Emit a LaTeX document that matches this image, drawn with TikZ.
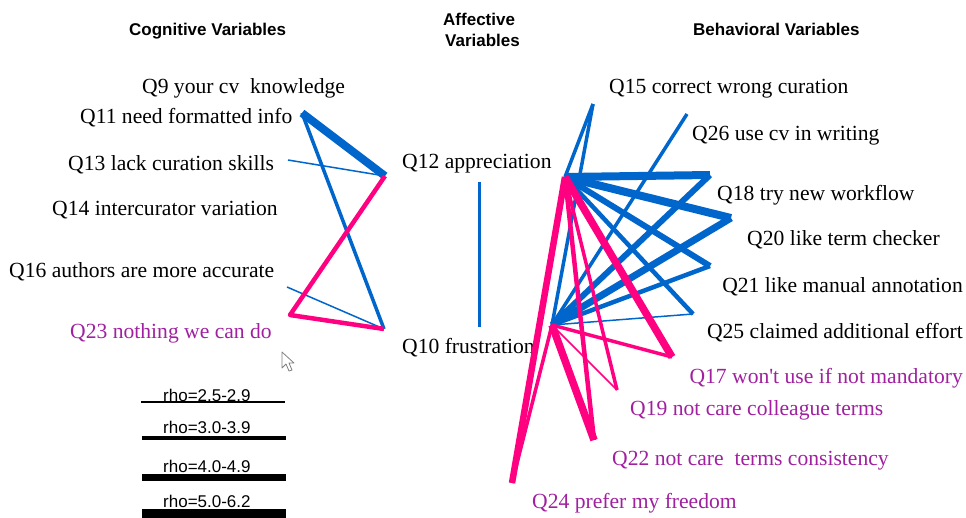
\documentclass[tikz,border=0pt]{standalone}
\usepackage{fontspec}
\setmainfont{Liberation Serif}
\newfontfamily\hdrfont{Liberation Sans}
\definecolor{eblue}{RGB}{0,102,204}
\definecolor{epink}{RGB}{255,0,128}
\definecolor{epurple}{RGB}{160,32,160}
\begin{document}
\begin{tikzpicture}[x=1pt,y=-1pt,
  lab/.style={inner sep=0pt, anchor=base west, font=\fontsize{21.6}{24}\selectfont},
  labr/.style={lab, anchor=base east},
  neg/.style={lab, text=epurple},
  negr/.style={labr, text=epurple},
  hdr/.style={inner sep=0pt, anchor=base west, font=\hdrfont\bfseries\fontsize{17}{20}\selectfont},
  leg/.style={inner sep=0pt, anchor=base west, font=\hdrfont\fontsize{17}{20}\selectfont},
  bl/.style={draw=eblue, line width=#1},
  pk/.style={draw=epink, line width=#1},
  lg/.style={draw=black, line width=#1},
  line join=round]
\useasboundingbox (0,0) rectangle (966,517);
% headers
\node[hdr] (hc) at (129,35) {Cognitive Variables};
\node[hdr] (ha1) at (443,25) {Affective};
\node[hdr] (ha2) at (445,46) {Variables};
\node[hdr] (hb) at (693,35) {Behavioral Variables};
% left labels
\node[lab] (t9)  at (142,93)  {Q9 your cv\ \ knowledge};
\node[lab] (t11) at (80,123)  {Q11 need formatted info};
\node[lab] (t13) at (68,170)  {Q13 lack curation skills};
\node[lab] (t14) at (52,215)  {Q14 intercurator variation};
\node[lab] (t16) at (9,277)   {Q16 authors are more accurate};
\node[neg] (t23) at (70,338)  {Q23 nothing we can do};
% middle labels
\node[lab] (t12) at (402,168) {Q12 appreciation};
\node[lab] (t10) at (402,353) {Q10 frustration};
% right labels
\node[lab] (t15) at (609,93)  {Q15 correct wrong curation};
\node[lab] (t26) at (692,140) {Q26 use cv in writing};
\node[lab] (t18) at (717,200) {Q18 try new workflow};
\node[lab] (t20) at (747,245) {Q20 like term checker};
\node[labr] (t21) at (963,292) {Q21 like manual annotation};
\node[labr] (t25) at (963,338) {Q25 claimed additional effort};
\node[negr] (t17) at (963,383) {Q17 won\textquotesingle t use if not mandatory};
\node[neg] (t19) at (630,415) {Q19 not care colleague terms};
\node[neg] (t22) at (612,465) {Q22 not care\ \ terms consistency};
\node[neg] (t24) at (532,508) {Q24 prefer my freedom};
% connector end points
\coordinate (q11) at (302,113);
\coordinate (q13) at (288,160);
\coordinate (q16) at (287,287);
\coordinate (q23) at (290,315);
\coordinate (q12l) at (385,176);
\coordinate (q10l) at (384,329);
\coordinate (q12m) at (479,182);
\coordinate (q10m) at (479,327);
\coordinate (q12r) at (565,177);
\coordinate (q10r) at (552,325);
\coordinate (q15) at (593,104);
\coordinate (q26) at (687,114);
\coordinate (q18) at (710,175);
\coordinate (q20) at (731,218);
\coordinate (q21) at (710,266);
\coordinate (q25) at (693,314);
\coordinate (q17) at (672,357);
\coordinate (q19) at (617,390);
\coordinate (q22) at (594,440);
\coordinate (q24) at (512,483);
% left connectors
\draw[bl=8] (q11) -- (q12l);
\draw[bl=3.5] (q11) -- (q10l);
\draw[bl=1.5] (q13) -- (q12l);
\draw[bl=1.5] (q16) -- (q10l);
\draw[pk=4.5] (q12l) -- (q23) -- (q10l);
% middle connector
\draw[bl=3] (q12m) -- (q10m);
% right connectors, blue
\draw[bl=3.5] (q12r) -- (q15);
\draw[bl=3.5] (q10r) -- (q15);
\draw[bl=3.5] (q10r) -- (q26);
\draw[bl=8] (q12r) -- (q18);
\draw[bl=6] (q10r) -- (q18);
\draw[bl=8] (q12r) -- (q20);
\draw[bl=7] (q10r) -- (q20);
\draw[bl=6] (q12r) -- (q21);
\draw[bl=4.5] (q10r) -- (q21);
\draw[bl=4.5] (q12r) -- (q25);
\draw[bl=1.5] (q10r) -- (q25);
% right connectors, pink
\draw[pk=7.5] (q12r) -- (q17);
\draw[pk=3.5] (q10r) -- (q17);
\draw[pk=3.5] (q12r) -- (q19);
\draw[pk=1.5] (q10r) -- (q19);
\draw[pk=4.5] (q12r) -- (q22);
\draw[pk=7.5] (q10r) -- (q22);
\draw[pk=6.5] (q12r) -- (q24);
\draw[pk=3.5] (q10r) -- (q24);
% legend
\coordinate (l1a) at (141,402); \coordinate (l1b) at (285,402);
\coordinate (l2a) at (142,438); \coordinate (l2b) at (286,438);
\coordinate (l3a) at (142,477); \coordinate (l3b) at (286,477);
\coordinate (l4a) at (142,514); \coordinate (l4b) at (286,514);
\draw[lg=1.5] (l1a) -- (l1b);
\draw[lg=4] (l2a) -- (l2b);
\draw[lg=7] (l3a) -- (l3b);
\draw[lg=10] (l4a) -- (l4b);
\node[leg] (r1) at (163,401) {rho=2.5-2.9};
\node[leg] (r2) at (163,433) {rho=3.0-3.9};
\node[leg] (r3) at (163,472) {rho=4.0-4.9};
\node[leg] (r4) at (163,507) {rho=5.0-6.2};
% mouse pointer
\draw[gray, fill=white, line width=0.8] (282,352) -- (282,368) -- (286,364) -- (289,371) -- (292,370) -- (289,363) -- (294,363) -- cycle;
\end{tikzpicture}
\end{document}
